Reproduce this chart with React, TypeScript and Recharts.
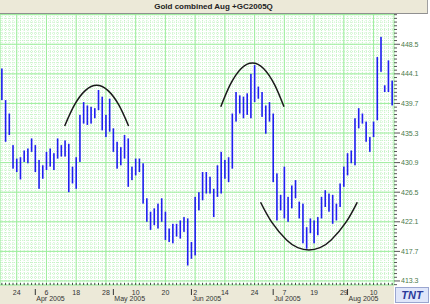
import { ComposedChart, Bar, Line, XAxis, YAxis, CartesianGrid } from "recharts";

// trading days shown on the chart (2005)
const dates = [
  "03-18", "03-21", "03-22", "03-23", "03-24", "03-28", "03-29", "03-30", "03-31",
  "04-01", "04-04", "04-05", "04-06", "04-07", "04-08", "04-11", "04-12", "04-13", "04-14", "04-15",
  "04-18", "04-19", "04-20", "04-21", "04-22", "04-25", "04-26", "04-27", "04-28", "04-29",
  "05-02", "05-03", "05-04", "05-05", "05-06", "05-09", "05-10", "05-11", "05-12", "05-13",
  "05-16", "05-17", "05-18", "05-19", "05-20", "05-23", "05-24", "05-25", "05-26", "05-27", "05-31",
  "06-01", "06-02", "06-03", "06-06", "06-07", "06-08", "06-09", "06-10", "06-13", "06-14",
  "06-15", "06-16", "06-17", "06-20", "06-21", "06-22", "06-23", "06-24", "06-27", "06-28", "06-29", "06-30",
  "07-01", "07-05", "07-06", "07-07", "07-08", "07-11", "07-12", "07-13", "07-14", "07-15",
  "07-18", "07-19", "07-20", "07-21", "07-22", "07-25", "07-26", "07-27", "07-28", "07-29",
  "08-01", "08-02", "08-03", "08-04", "08-05", "08-08", "08-09", "08-10", "08-11", "08-12",
  "08-15", "08-16", "08-17",
];

const highs = [
  444.9, 440.2, 438.2, 433.5, 431.5, 431.7, 432.7, 433.0, 434.5, 433.5,
  431.3, 430.5, 432.5, 433.0, 432.3, 434.5, 433.5, 434.2, 433.7, 430.3,
  431.7, 438.0, 439.9, 439.4, 439.2, 439.0, 441.7, 440.7, 438.0, 440.4,
  436.0, 434.0, 433.2, 435.0, 434.5, 430.3, 431.5, 431.5, 430.8, 425.6,
  423.6, 424.1, 424.8, 425.6, 423.6, 421.1, 421.8, 421.8, 422.3, 422.8,
  422.6, 419.1, 425.8, 426.5, 429.5, 429.5, 428.8, 427.0, 430.5, 432.5,
  431.3, 431.7, 438.2, 441.4, 440.9, 440.7, 441.2, 444.1, 445.4, 442.2,
  441.4, 439.4, 439.9, 438.2, 429.3, 426.1, 430.3, 425.8, 427.5, 428.3,
  425.1, 424.8, 421.3, 422.6, 422.3, 422.8, 425.8, 426.8, 426.3, 426.1,
  424.8, 427.8, 430.3, 432.3, 432.7, 437.5, 439.0, 438.2, 437.0, 434.7,
  437.0, 446.6, 449.6, 442.4, 446.1, 443.1,
];

const lows = [
  440.2, 434.0, 435.0, 430.0, 429.5, 428.4, 431.0, 430.8, 432.5, 429.5,
  427.0, 428.5, 429.8, 430.3, 429.8, 431.5, 431.8, 431.8, 426.5, 427.8,
  427.0, 431.0, 436.7, 436.5, 436.7, 437.5, 438.7, 435.7, 434.7, 435.5,
  432.5, 430.0, 430.5, 431.5, 427.3, 428.3, 429.0, 429.5, 424.8, 422.1,
  420.9, 421.6, 421.1, 422.1, 419.4, 419.1, 418.9, 419.9, 419.6, 420.6,
  415.6, 416.6, 417.1, 423.8, 425.3, 426.3, 426.3, 422.8, 425.8, 426.3,
  428.5, 428.0, 430.0, 437.0, 438.2, 437.5, 438.0, 437.5, 439.9, 440.4,
  437.7, 435.2, 437.0, 428.0, 422.3, 423.8, 422.6, 422.1, 424.1, 425.6,
  422.6, 418.9, 418.1, 420.4, 418.9, 420.1, 422.6, 424.3, 423.6, 421.8,
  422.3, 424.3, 427.3, 429.0, 430.8, 430.5, 436.0, 436.7, 434.0, 432.5,
  434.7, 437.2, 444.4, 441.4, 441.4, 439.4,
];

const majorDates = [
  "03-24", "04-06", "04-18", "04-28", "05-10", "05-20", "06-02",
  "06-14", "06-24", "07-07", "07-19", "07-29", "08-10",
];
const monthStarts = ["04-01", "05-02", "06-01", "07-01", "08-01"];
const monthLabels = ["Apr 2005", "May 2005", "Jun 2005", "Jul 2005", "Aug 2005"];

const priceTicks = [413.3, 417.7, 422.1, 426.5, 430.9, 435.3, 439.7, 444.1, 448.5];
const gridTicks = [...priceTicks, 452.9];

// hand drawn arcs (bar index, price)
const arcApril = [
  { x: 16.9, y: 436.35 }, { x: 19.5, y: 439.45 }, { x: 22.5, y: 441.65 }, { x: 25.5, y: 442.4 },
  { x: 28.5, y: 441.65 }, { x: 31.5, y: 439.45 }, { x: 34.1, y: 436.35 },
];
const arcJune = [
  { x: 58.9, y: 439.2 }, { x: 61.4, y: 442.45 }, { x: 64.4, y: 444.9 }, { x: 67.4, y: 445.7 },
  { x: 70.4, y: 444.9 }, { x: 73.4, y: 442.45 }, { x: 75.9, y: 439.2 },
];
const arcJuly = [
  { x: 69.6, y: 425.0 }, { x: 72.6, y: 422.05 }, { x: 76.6, y: 419.4 }, { x: 79.6, y: 418.25 },
  { x: 82.6, y: 417.9 }, { x: 85.6, y: 418.25 }, { x: 88.6, y: 419.4 }, { x: 92.6, y: 422.05 },
  { x: 95.6, y: 425.0 },
];

const rows = dates.map((d, i) => ({ date: d, range: [lows[i], highs[i]] }));
const minorTicks = Array.from({ length: 74 }, (_, k) => +(412.75 + k * 0.55).toFixed(2));

const FONT = "'Liberation Sans', Arial, sans-serif";

const HLBar = ({ x, y, width, height }: any) => (
  <rect
    x={x + width / 2 - 0.8}
    y={Math.min(y, y + height)}
    width={1.6}
    height={Math.max(Math.abs(height), 1)}
    fill="#1f1ff0"
  />
);

const PriceTick = ({ x, y, payload }: any) => {
  const v = payload.value;
  const major = priceTicks.some((t) => Math.abs(t - v) < 0.01);
  return (
    <g>
      <line x1={x} x2={x + (major ? 6 : 3)} y1={y} y2={y} stroke="#555" />
      {major && (
        <text x={x + 7} y={y + 2.5} fontSize={7} fontFamily={FONT} fill="#4a7a4a">
          {v.toFixed(1)}
        </text>
      )}
    </g>
  );
};

const DateTick = ({ x, y, payload }: any) => {
  const d: string = payload.value;
  const mi = monthStarts.indexOf(d);
  const major = majorDates.includes(d);
  return (
    <g>
      <line x1={x} x2={x} y1={y - 2} y2={y} stroke="#444" />
      {major && (
        <text x={x} y={y + 9.5} textAnchor="middle" fontSize={7} fontFamily={FONT} fill="#333">
          {Number(d.slice(3))}
        </text>
      )}
      {mi >= 0 && (
        <g>
          <line x1={x} x2={x} y1={y + 4} y2={y + 10} stroke="#333" />
          <text x={x + 1} y={y + 15.5} fontSize={7} fontFamily={FONT} fill="#333">
            {monthLabels[mi]}
          </text>
        </g>
      )}
    </g>
  );
};

export default function App() {
  return (
    <div
      style={{
        position: "relative",
        width: 430,
        height: 304,
        background: "#fff",
        overflow: "hidden",
        fontFamily: FONT,
      }}
    >
      <style>{"body{margin:0}"}</style>
      <div style={{ position: "absolute", left: 0, top: 285, width: 394, height: 19, background: "#ece9d8" }} />
      <div style={{ position: "absolute", left: 0, top: 0 }}>
        <ComposedChart width={430} height={304} data={rows} margin={{ top: 14, right: 0, left: 0, bottom: 0 }}>
          <XAxis
            xAxisId="day"
            dataKey="date"
            ticks={dates}
            interval={0}
            height={19}
            tickSize={0}
            tickMargin={0}
            tickLine={false}
            axisLine={false}
            tick={<DateTick />}
          />
          <XAxis xAxisId="g" dataKey="date" ticks={majorDates} interval={0} hide />
          <XAxis xAxisId="n" type="number" dataKey="x" domain={[-0.5, 105.5]} allowDataOverflow hide />
          <YAxis
            yAxisId="p"
            orientation="right"
            domain={[412.7, 453.0]}
            allowDataOverflow
            ticks={minorTicks}
            interval={0}
            width={36}
            tickSize={0}
            tickMargin={0}
            tickLine={false}
            axisLine={false}
            tick={<PriceTick />}
          />
          <YAxis yAxisId="maj" domain={[412.7, 453.0]} allowDataOverflow ticks={gridTicks} interval={0} hide />
          <CartesianGrid xAxisId="day" yAxisId="p" stroke="#c6f3c6" strokeDasharray="1 1" />
          <CartesianGrid xAxisId="g" yAxisId="maj" stroke="#9eee9e" />
          <Bar xAxisId="day" yAxisId="p" dataKey="range" shape={<HLBar />} isAnimationActive={false} />
          {[arcApril, arcJune, arcJuly].map((arc, k) => (
            <Line
              key={k}
              xAxisId="n"
              yAxisId="p"
              data={arc}
              dataKey="y"
              type="natural"
              stroke="#1a1a1a"
              strokeWidth={1.5}
              dot={false}
              isAnimationActive={false}
            />
          ))}
        </ComposedChart>
      </div>
      <div
        style={{
          position: "absolute",
          left: 0,
          top: 0,
          width: 427,
          height: 13,
          background: "#ece9d8",
          borderRight: "1px solid #a0a0a0",
          borderBottom: "1px solid #909090",
          fontSize: 8,
          fontWeight: "bold",
          textAlign: "center",
          lineHeight: "13px",
          color: "#222",
        }}
      >
        Gold combined Aug +GC2005Q
      </div>
      <div
        style={{
          position: "absolute",
          left: 395,
          top: 287,
          width: 32,
          height: 14,
          background: "#dfe6fa",
          border: "1px solid #9aa6d0",
          color: "#2a3a9a",
          fontSize: 11,
          fontWeight: "bold",
          fontStyle: "italic",
          textAlign: "center",
          lineHeight: "14px",
        }}
      >
        TNT
      </div>
    </div>
  );
}
